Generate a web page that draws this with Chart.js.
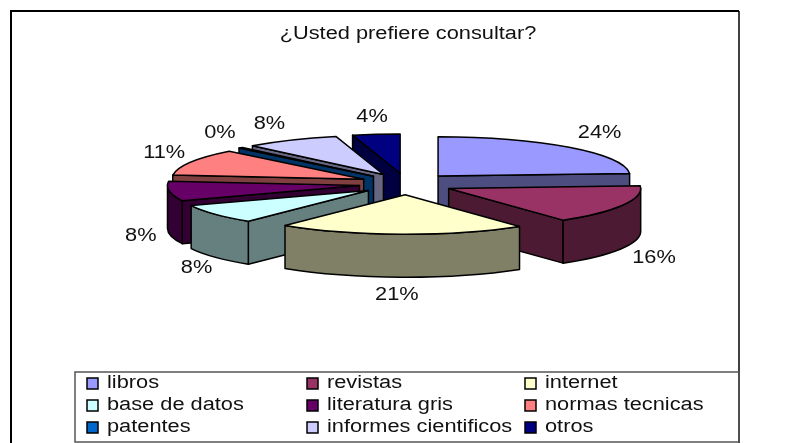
<!DOCTYPE html>
<html lang="es">
<head>
  <meta charset="UTF-8">
  <title>¿Usted prefiere consultar?</title>
  <style>
    body { margin: 0; background: #ffffff; }
    canvas { display: block; }
  </style>
</head>
<body>
  <canvas id="myChart" width="750" height="443"></canvas>

  <script src="https://cdn.jsdelivr.net/npm/chart.js"></script>
  <script>
    const titleText = '¿Usted prefiere consultar?';
    const categories = ['libros', 'revistas', 'internet', 'base de datos', 'literatura gris',
      'normas tecnicas', 'patentes', 'informes cientificos', 'otros'];
    const shares = [24, 16, 21, 8, 8, 11, 0.4, 8, 4];
    const topColors = ['#9999FF', '#993366', '#FFFFCC', '#CCFFFF', '#660066',
      '#FF8080', '#0066CC', '#CCCCFF', '#000080'];
    const sideColors = ['#4D4D80', '#4D1A33', '#808066', '#668080', '#330033',
      '#804040', '#003366', '#666680', '#000040'];

    // pie look
    const squash = 0.205;
    const explode = 47;
    const explodeY = 0.23;
    const depth = 43;
    const pieY = 184;
    const font = 'Liberation Sans, Arial, sans-serif';
    const textSize = 18;
    const textStretch = 1.21; // the reference text is wider than it is tall
    // small nudges, the labels do not sit on a perfect ellipse
    const labelNudgeX = [8, 1, -4, 8, 4, 3, 2, -6, 0];
    const labelNudgeY = [-1, 3, 0, 0, -1, -1, -2, 0, 0];

    function stretchedText(ctx, text, x, y, align) {
      ctx.save();
      ctx.font = textSize + 'px ' + font;
      ctx.fillStyle = '#111111';
      ctx.textBaseline = 'middle';
      ctx.textAlign = align;
      ctx.translate(x, y);
      ctx.scale(textStretch, 1);
      ctx.fillText(text, 0, 0);
      ctx.restore();
    }

    // puts the slices in a tilted 3D view, back ones first
    const pie3d = {
      id: 'pie3d',
      beforeDatasetDraw(chart, args) {
        const ctx = chart.ctx;
        const arcs = chart.getDatasetMeta(args.index).data;
        const total = shares.reduce((a, b) => a + b, 0);
        const order = arcs.map((arc, i) => i).sort((a, b) => {
          const ma = (arcs[a].startAngle + arcs[a].endAngle) / 2;
          const mb = (arcs[b].startAngle + arcs[b].endAngle) / 2;
          return Math.sin(ma) - Math.sin(mb);
        });

        ctx.save();
        ctx.strokeStyle = '#000000';
        ctx.lineWidth = 1.5;
        ctx.lineJoin = 'round';

        const centers = [];
        order.forEach(i => {
          const arc = arcs[i];
          const a0 = arc.startAngle;
          const a1 = arc.endAngle;
          const mid = (a0 + a1) / 2;
          const r = arc.outerRadius;
          const ax = arc.x + Math.cos(mid) * explode;
          const ay = pieY + Math.sin(mid) * explode * explodeY;
          centers[i] = { ax, ay, mid };
          const px = a => ax + Math.cos(a) * r;
          const py = a => ay + Math.sin(a) * r * squash;

          ctx.fillStyle = sideColors[i];
          // cut faces
          [[a0, Math.cos(a0) < 0], [a1, Math.cos(a1) > 0]].forEach(([a, visible]) => {
            if (!visible) return;
            ctx.beginPath();
            ctx.moveTo(ax, ay);
            ctx.lineTo(px(a), py(a));
            ctx.lineTo(px(a), py(a) + depth);
            ctx.lineTo(ax, ay + depth);
            ctx.closePath();
            ctx.fill();
            ctx.stroke();
          });
          // rim
          const f0 = Math.max(a0, 0);
          const f1 = Math.min(a1, Math.PI);
          if (f1 > f0) {
            ctx.beginPath();
            ctx.ellipse(ax, ay, r, r * squash, 0, f0, f1);
            ctx.ellipse(ax, ay + depth, r, r * squash, 0, f1, f0, true);
            ctx.closePath();
            ctx.fill();
            ctx.stroke();
          }
          // top face comes from the library's own arc
          ctx.save();
          ctx.translate(ax, ay);
          ctx.scale(1, squash);
          ctx.translate(-arc.x, -arc.y);
          arc.draw(ctx);
          ctx.restore();
          ctx.beginPath();
          ctx.moveTo(ax, ay);
          ctx.ellipse(ax, ay, r, r * squash, 0, a0, a1);
          ctx.closePath();
          ctx.stroke();
        });
        ctx.restore();

        arcs.forEach((arc, i) => {
          const { ax, ay, mid } = centers[i];
          const pct = Math.round(shares[i] / total * 100) + '%';
          const lx = ax + Math.cos(mid) * 225 + labelNudgeX[i];
          const ly = ay + Math.sin(mid) * 57 + (Math.sin(mid) > 0 ? depth : 0) + labelNudgeY[i];
          stretchedText(ctx, pct, lx, ly, 'center');
        });
        return false;
      },
      afterDraw(chart) {
        const ctx = chart.ctx;
        ctx.save();
        stretchedText(ctx, titleText, 408, 34, 'center');
        // frame
        ctx.strokeStyle = '#000000';
        ctx.lineWidth = 2;
        ctx.beginPath();
        ctx.moveTo(11, 443);
        ctx.lineTo(11, 11);
        ctx.lineTo(739, 11);
        ctx.stroke();
        ctx.lineWidth = 1.5;
        ctx.beginPath();
        ctx.moveTo(739, 11);
        ctx.lineTo(739, 443);
        ctx.stroke();
        // legend
        ctx.strokeStyle = '#555555';
        ctx.lineWidth = 1.5;
        ctx.strokeRect(75, 372, 664, 70);
        const colX = [87, 307, 525];
        const rowY = [383, 405, 427];
        categories.forEach((name, i) => {
          const x = colX[i % 3];
          const y = rowY[Math.floor(i / 3)];
          ctx.fillStyle = topColors[i];
          ctx.strokeStyle = '#000000';
          ctx.lineWidth = 1.5;
          ctx.fillRect(x, y - 5, 11, 11);
          ctx.strokeRect(x, y - 5, 11, 11);
          stretchedText(ctx, name, x + 20, y, 'left');
        });
        ctx.restore();
      }
    };

    new Chart(document.getElementById('myChart'), {
      type: 'pie',
      data: {
        labels: categories,
        datasets: [{
          data: shares,
          backgroundColor: topColors,
          borderWidth: 0
        }]
      },
      options: {
        responsive: false,
        animation: false,
        events: [],
        layout: { padding: { left: 214, right: 152, top: 0, bottom: 0 } },
        plugins: {
          legend: { display: false },
          tooltip: { enabled: false }
        }
      },
      plugins: [pie3d]
    });
  </script>
</body>
</html>
